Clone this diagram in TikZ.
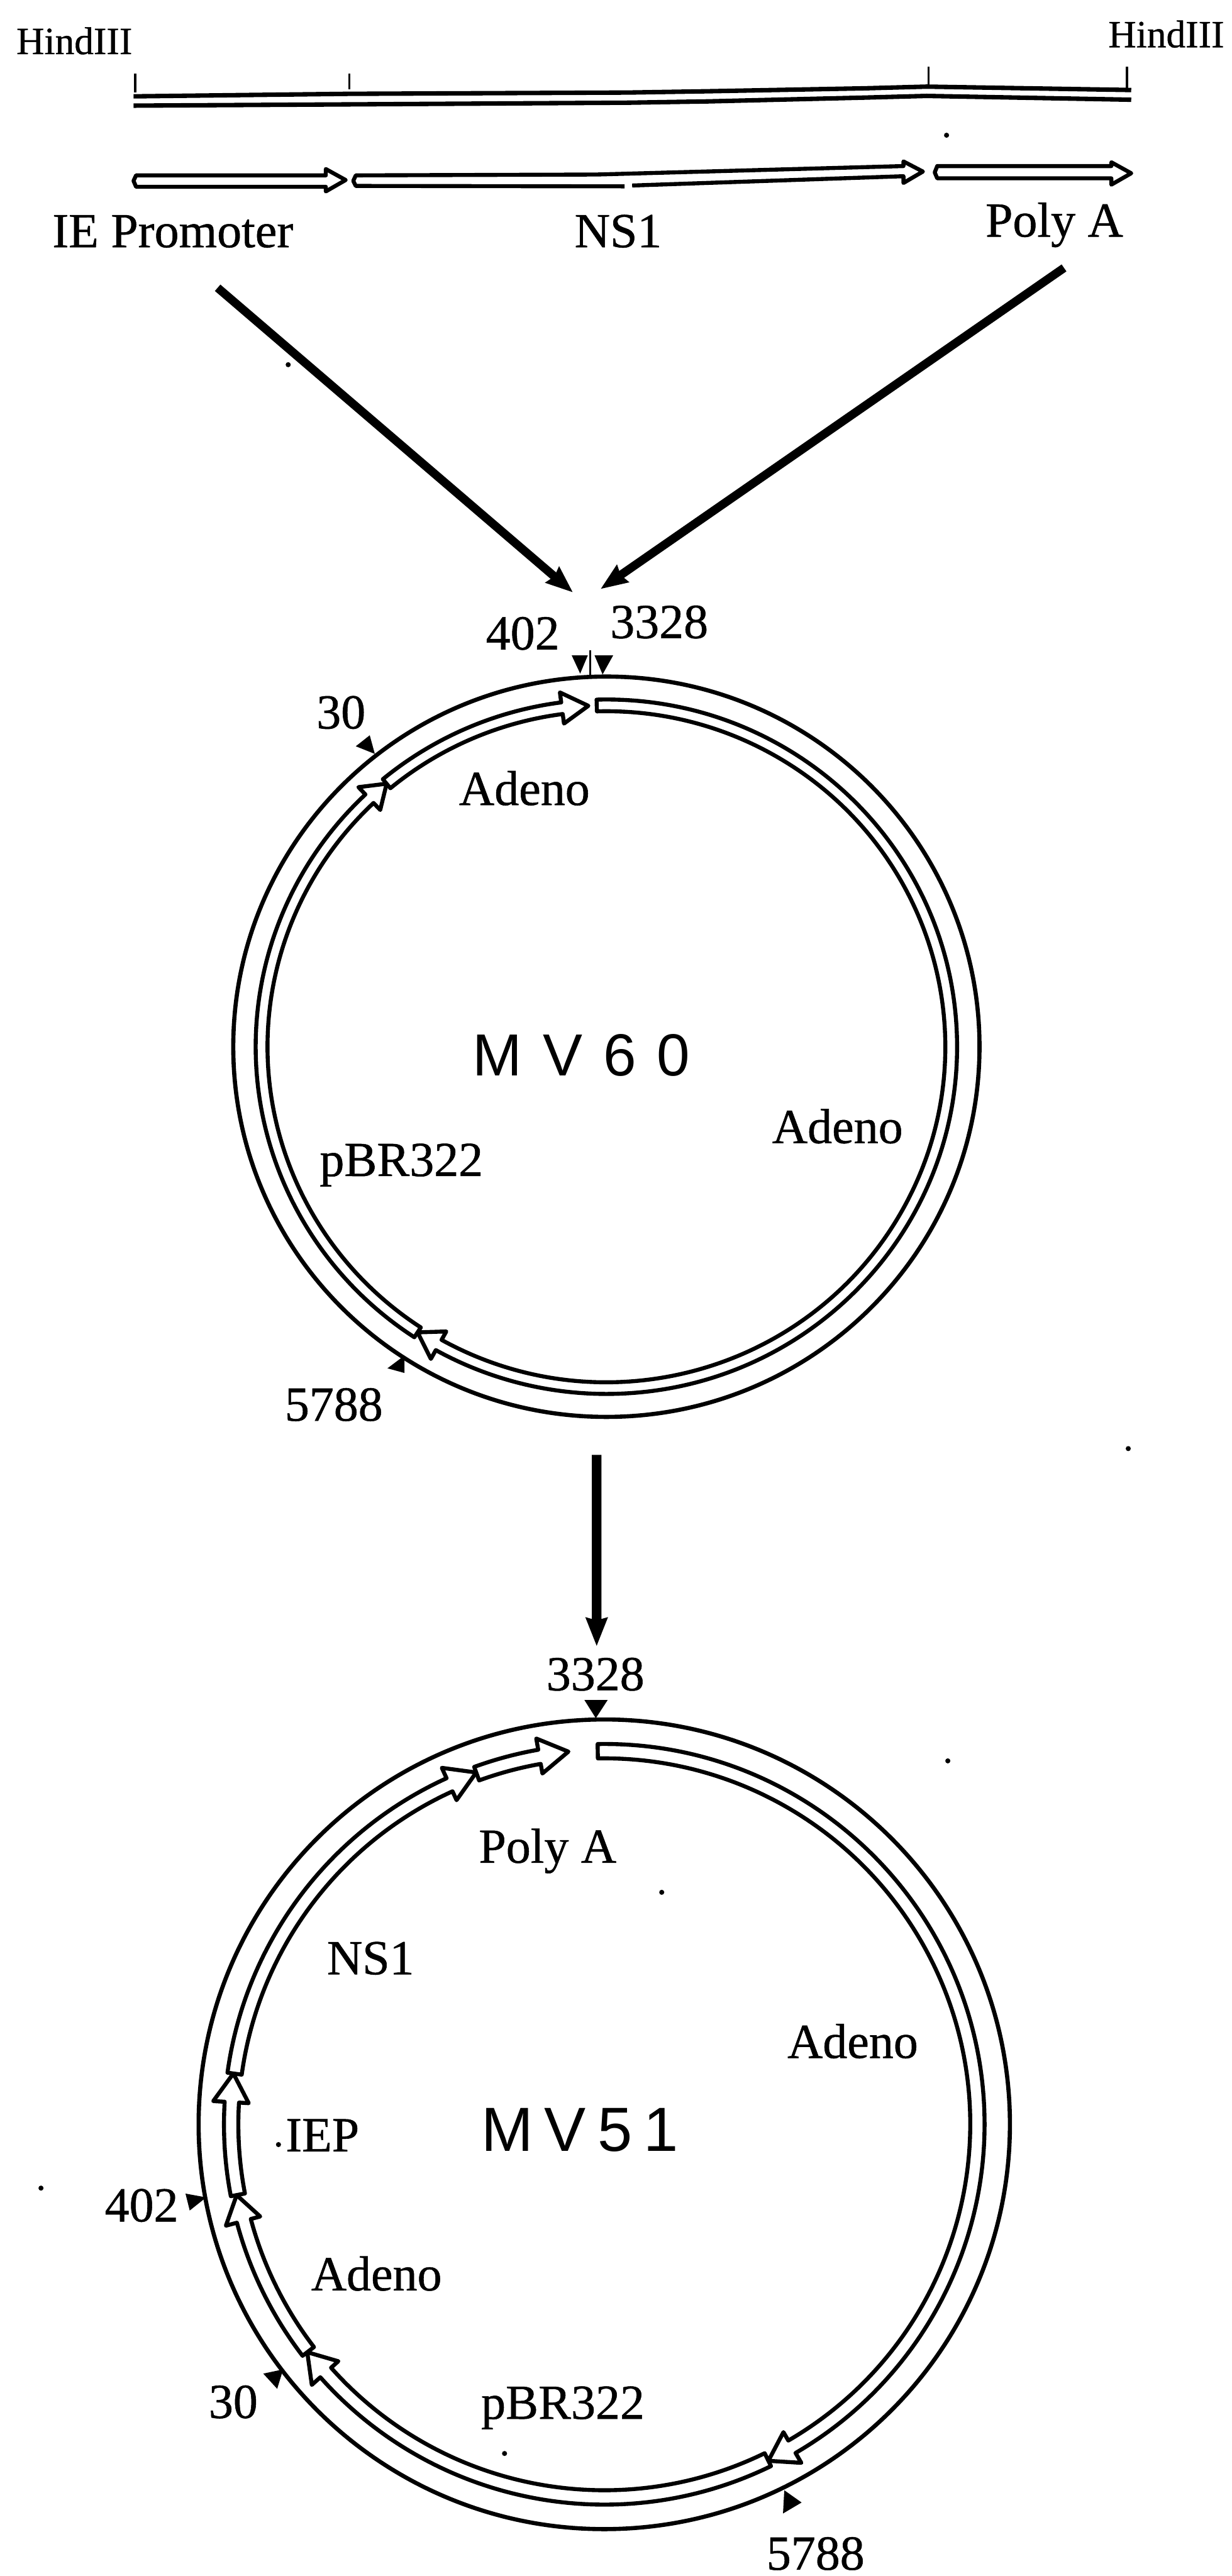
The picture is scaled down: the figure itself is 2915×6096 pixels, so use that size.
\documentclass[tikz,border=0pt]{standalone}
\usepackage{fontspec}
\usepackage{tikz}
\usetikzlibrary{shapes.geometric, arrows.meta, positioning}
\setmainfont[FakeBold=0.7]{Liberation Serif}
\newfontfamily\mvsixtyfont[LetterSpace=35]{Liberation Sans}
\newfontfamily\mvfiftyfont[LetterSpace=18]{Liberation Sans}

% one piece of the band on a plasmid: start angle, angle of the barbs, angle of the tip
\newcommand{\plasmidseg}[3]{
  \draw[segline] (#1:\bandout) arc[start angle=#1, end angle=#2, radius=\bandout]
    -- (#2:\barbout) -- (#3:\bandtip) -- (#2:\barbin) -- (#2:\bandin)
    arc[start angle=#2, end angle=#1, radius=\bandin] -- cycle;
}

\begin{document}
\begin{tikzpicture}[
  x=0.1mm, y=-0.1mm,
  tag/.style={font=\fontsize{33}{36}\selectfont, anchor=base, inner sep=0pt},
  smalltag/.style={font=\fontsize{26}{30}\selectfont, anchor=base, inner sep=0pt},
  plasmidname/.style={anchor=base, inner sep=0pt},
  dnaline/.style={line width=3pt, line join=round},
  tickline/.style={line width=1.4pt},
  segline/.style={line width=2.7pt, line join=round, fill=white},
  ringnode/.style={ellipse, draw, line width=2.8pt, inner sep=0pt, outer sep=0pt},
  bigarrow/.style={-{Stealth[length=18pt, width=13.5pt, inset=1.5pt]}, line width=5.7pt},
  thinarrow/.style={-{Stealth[length=19pt, width=14pt, inset=1.5pt]}, line width=6.4pt}
]
\useasboundingbox (0,0) rectangle (2915,6096);

% insert at the top
\draw[dnaline] (316,228) -- (827,222) -- (1487,219) -- (1673,216) -- (2045,209) -- (2193,205) -- (2677,213);
\draw[dnaline] (316,250) -- (827,247) -- (1487,243) -- (1673,240) -- (2045,231) -- (2193,227) -- (2677,236);
\foreach \tx/\ta/\tb in {320/174/219, 827/174/212, 2197/158/205, 2667/158/210}
  \draw[tickline] (\tx,\ta) -- (\tx,\tb);

\draw[segline] (322,415) -- (771,415) -- (771,400) -- (818,426) -- (771,453) -- (771,442) -- (322,442) -- (316,428) -- cycle;
\draw[segline, fill=none] (1478,441) -- (842,440) -- (836,428) -- (842,415) -- (1412,413) -- (2138,393) -- (2138,382)
  -- (2184,406) -- (2138,433) -- (2138,417) -- (1496,439);
\draw[segline] (2218,393) -- (2630,393) -- (2630,384) -- (2677,410) -- (2630,437) -- (2630,422) -- (2218,422) -- (2212,408) -- cycle;

\node[smalltag] (hindleft) at (176,128) {HindIII};
\node[smalltag] (hindright) at (2760,112) {HindIII};
\node[tag] (promoter) at (409,585) {IE Promoter};
\node[tag] (nsone) at (1463,585) {NS1};
\node[tag] (polya) at (2495,560) {Poly A};

\coordinate (promoterfoot) at (515,681);
\coordinate (polyfoot) at (2518,634);
\coordinate (insertleft) at (1356,1402);
\coordinate (insertright) at (1421,1394);
\draw[bigarrow] (promoterfoot) -- (insertleft);
\draw[bigarrow] (polyfoot) -- (insertright);

% MV60
\node[ringnode, minimum width=176.6mm, minimum height=175.2mm] (ringsixty) at (1435,2477) {};
\begin{scope}[shift={(1435,2477)}, yscale=0.99]
  \def\bandout{83mm}\def\bandin{80.2mm}\def\barbout{85.4mm}\def\barbin{77.9mm}\def\bandtip{81.6mm}
  \plasmidseg{91.6}{-119.1}{-123.2}
  \plasmidseg{-123.2}{-226.6}{-230.4}
  \plasmidseg{129.6}{97.4}{93}
\end{scope}
\node[plasmidname, font=\fontsize{40}{44}\mvsixtyfont] (nameone) at (1376,2546) {MV60};
\node[tag] (sixtyadenoa) at (1241,1905) {Adeno};
\node[tag] (sixtyadenob) at (1982,2705) {Adeno};
\node[tag] (sixtypbr) at (950,2783) {pBR322};
\node[tag] (sixtyfour) at (1237,1537) {402};
\node[tag] (sixtythree) at (1560,1510) {3328};
\node[tag] (sixtythirty) at (807,1724) {30};
\node[tag] (sixtyfive) at (790,3362) {5788};

\foreach \ax/\ay/\bx/\by/\cx/\cy in {1353/1551/1391/1551/1373/1594, 1407/1551/1451/1551/1426/1596,
    875/1740/842/1766/887/1784, 957/3208/917/3238/957/3249}
  \fill (\ax,\ay) -- (\bx,\by) -- (\cx,\cy) -- cycle;
\draw[tickline] (1397,1539) -- (1397,1597);

% MV51
\node[ringnode, minimum width=192mm, minimum height=191.6mm] (ringfifty) at (1430,5027) {};
\begin{scope}[shift={(1430,5027)}]
  \def\bandout{90mm}\def\bandin{86.6mm}\def\barbout{92.7mm}\def\barbin{84.3mm}\def\bandtip{88.6mm}
  \plasmidseg{91}{-59.8}{-64}
  \plasmidseg{-64}{-138.3}{-142.5}
  \plasmidseg{-142.5}{-165}{-169.1}
  \plasmidseg{-169.1}{-183.4}{-187.8}
  \plasmidseg{172.2}{114.5}{110}
  \plasmidseg{110}{100}{95.5}
\end{scope}
\node[plasmidname, font=\fontsize{42}{46}\mvfiftyfont] (nametwo) at (1372,5091) {MV51};
\node[tag] (fiftypoly) at (1296,4408) {Poly A};
\node[tag] (fiftyns) at (877,4672) {NS1};
\node[tag] (fiftyiep) at (763,5091) {IEP};
\node[tag] (fiftyadenoa) at (2018,4870) {Adeno};
\node[tag] (fiftyadenob) at (891,5420) {Adeno};
\node[tag] (fiftypbr) at (1332,5724) {pBR322};
\node[tag] (fiftythree) at (1409,4000) {3328};
\node[tag] (fiftyfour) at (335,5257) {402};
\node[tag] (fiftythirty) at (552,5722) {30};
\node[tag] (fiftyfive) at (1930,6081) {5788};

\foreach \ax/\ay/\bx/\by/\cx/\cy in {1383/4023/1438/4023/1410/4066, 439/5191/449/5231/488/5200,
    623/5617/656/5653/670/5607, 1856/5893/1897/5922/1853/5948}
  \fill (\ax,\ay) -- (\bx,\by) -- (\cx,\cy) -- cycle;

\draw[thinarrow, shorten >=17.3mm, shorten <=9mm] ([xshift=-2.3mm]ringsixty.south) -- ([xshift=-1.8mm]ringfifty.north);

% small marks
\foreach \sx/\sy in {2240/320, 682/863, 2670/3428, 2243/4167, 1566/4478, 659/5075, 97/5178, 1194/5806}
  \fill (\sx,\sy) circle[radius=0.6mm];

\end{tikzpicture}
\end{document}
